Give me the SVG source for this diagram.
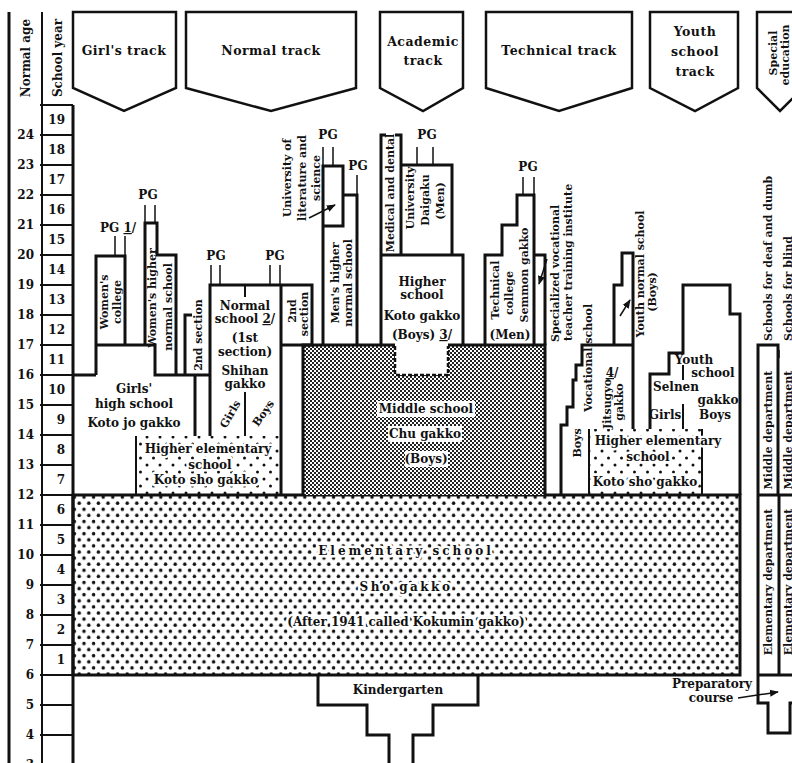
<svg xmlns="http://www.w3.org/2000/svg" width="792" height="763" viewBox="0 0 792 763">
<defs>
<style>
text{font-family:"DejaVu Serif","Liberation Serif",serif;font-weight:bold;fill:#111}
.t{font-size:12px;text-anchor:middle}
.r{font-size:11px;text-anchor:middle}
.rs{font-size:11px;text-anchor:start}
.h{font-size:12.5px;text-anchor:middle;letter-spacing:0.5px}
.ag{font-size:12px;text-anchor:end}
.halo{stroke:#fff;stroke-width:5px;paint-order:stroke;stroke-linejoin:round}
.th{fill:none;stroke:#111;stroke-width:3}
.md{fill:none;stroke:#111;stroke-width:2}
.tn{fill:none;stroke:#111;stroke-width:1.5}
.u{text-decoration:underline}
.hdr{fill:#fff;stroke:#111;stroke-width:2.5;stroke-linejoin:miter}
</style>
<pattern id="dotE" width="9.6" height="12.2" patternUnits="userSpaceOnUse"><circle cx="2.4" cy="3" r="1.75" fill="#111"/><circle cx="7.2" cy="9.1" r="1.75" fill="#111"/></pattern>
<pattern id="dotH" width="13" height="14" patternUnits="userSpaceOnUse"><circle cx="4" cy="3" r="1.5" fill="#111"/><circle cx="10.5" cy="10" r="1.5" fill="#111"/></pattern>
<pattern id="hatch" width="4" height="4" patternUnits="userSpaceOnUse"><rect width="4" height="4" fill="#222"/><rect x="0" y="0" width="2" height="2" fill="#fff"/><rect x="2" y="2" width="2" height="2" fill="#fff"/></pattern>
<marker id="ah" viewBox="0 0 10 10" refX="9" refY="5" markerWidth="6" markerHeight="6" orient="auto"><path d="M0,1L10,5L0,9Z" fill="#111"/></marker>
</defs>
<rect width="792" height="763" fill="#fff"/>

<g id="axis">
<path class="th" d="M9,12V763M73,105V763"/>
<path class="md" d="M42,12V763M40,105H73M40,135H73M40,165H73M40,195H73M40,225H73M40,255H73M40,285H73M40,315H73M40,345H73M40,375H73M40,405H73M40,435H73M40,465H73M40,495H73M40,525H73M40,555H73M40,585H73M40,615H73M40,645H73M40,675H73M40,705H73M40,735H73"/>
<text class="t" transform="translate(30.2,58) rotate(-90)">Normal age</text>
<text class="t" transform="translate(62.2,58) rotate(-90)">School year</text>
<text class="ag" x="34" y="139">24</text><text class="ag" x="34" y="169">23</text><text class="ag" x="34" y="199">22</text><text class="ag" x="34" y="229">21</text><text class="ag" x="34" y="259">20</text><text class="ag" x="34" y="289">19</text><text class="ag" x="34" y="319">18</text><text class="ag" x="34" y="349">17</text><text class="ag" x="34" y="379">16</text><text class="ag" x="34" y="409">15</text><text class="ag" x="34" y="439">14</text><text class="ag" x="34" y="469">13</text><text class="ag" x="34" y="499">12</text><text class="ag" x="34" y="529">11</text><text class="ag" x="34" y="559">10</text><text class="ag" x="34" y="589">9</text><text class="ag" x="34" y="619">8</text><text class="ag" x="34" y="649">7</text><text class="ag" x="34" y="679">6</text><text class="ag" x="34" y="709">5</text><text class="ag" x="34" y="739">4</text><text class="ag" x="34" y="769">3</text>
<text class="ag" x="65" y="124">19</text><text class="ag" x="65" y="154">18</text><text class="ag" x="65" y="184">17</text><text class="ag" x="65" y="214">16</text><text class="ag" x="65" y="244">15</text><text class="ag" x="65" y="274">14</text><text class="ag" x="65" y="304">13</text><text class="ag" x="65" y="334">12</text><text class="ag" x="65" y="364">11</text><text class="ag" x="65" y="394">10</text><text class="ag" x="65" y="424">9</text><text class="ag" x="65" y="454">8</text><text class="ag" x="65" y="484">7</text><text class="ag" x="65" y="514">6</text><text class="ag" x="65" y="544">5</text><text class="ag" x="65" y="574">4</text><text class="ag" x="65" y="604">3</text><text class="ag" x="65" y="634">2</text><text class="ag" x="65" y="664">1</text>
</g>

<g id="hdr-girls"><path class="hdr" d="M73,12H176V88L124,111L73,88Z"/><text class="h" x="124" y="55">Girl's track</text></g>
<g id="hdr-normal"><path class="hdr" d="M186,12H356V88L271,111L186,88Z"/><text class="h" x="271" y="55">Normal track</text></g>
<g id="hdr-academic"><path class="hdr" d="M380,12H463V88L423,111L380,88Z"/><text class="h" x="423" y="46">Academic</text><text class="h" x="423" y="65">track</text></g>
<g id="hdr-technical"><path class="hdr" d="M486,12H632V88L559,111L486,88Z"/><text class="h" x="559" y="55">Technical track</text></g>
<g id="hdr-youth"><path class="hdr" d="M650,12H738V88L695,111L650,88Z"/><text class="h" x="695" y="36">Youth</text><text class="h" x="695" y="56">school</text><text class="h" x="695" y="76">track</text></g>
<g id="hdr-special"><path class="hdr" d="M757,12H803V88L780,111L757,88Z"/><text class="r" transform="translate(776.9,53) rotate(-90)">Special</text><text class="r" transform="translate(788.9,55) rotate(-90)">education</text></g>

<g id="elementary">
<rect x="73" y="495" width="667" height="180" fill="url(#dotE)" stroke="#111" stroke-width="3"/>
<text class="t halo" x="406" y="555" style="letter-spacing:3px">Elementary school</text>
<text class="t halo" x="406" y="591" style="letter-spacing:2.5px">Sho gakko</text>
<text class="t halo" x="406" y="626">(After 1941 called Kokumin gakko)</text>
</g>

<g id="middle-school">
<rect x="303" y="345" width="242" height="150" fill="url(#hatch)"/>
<rect x="395" y="343" width="53" height="32" fill="#fff"/>
<path d="M395,346V375H448V346" fill="none" stroke="#111" stroke-width="2.5" stroke-dasharray="4,2"/>
<path class="th" d="M395,345H303V495M448,345H545V495"/>
<rect x="377" y="401" width="98" height="16" fill="#fff"/>
<rect x="388" y="426" width="74" height="16" fill="#fff"/>
<rect x="405" y="451" width="43" height="16" fill="#fff"/>
<text class="t" x="426" y="413">Middle school</text>
<text class="t" x="425" y="438">Chu gakko</text>
<text class="t" x="426" y="463">(Boys)</text>
</g>

<g id="higher-elem-left">
<rect x="136" y="436" width="144" height="59" fill="url(#dotH)"/>
<path class="md" d="M136,436V495"/>
<text class="t halo" x="208" y="453">Higher elementary</text>
<text class="t halo" x="210" y="469">school</text>
<text class="t halo" x="206" y="484">Koto sho gakko</text>
</g>

<g id="higher-elem-right">
<rect x="589" y="429" width="113" height="66" fill="url(#dotH)"/>
<path class="md" d="M589,429V495M702,429V495"/>
<text class="t halo" x="658" y="445">Higher elementary</text>
<text class="t halo" x="648" y="461">school</text>
<text class="t halo" x="645" y="486">Koto sho gakko</text>
</g>

<g id="girls-high">
<path class="th" d="M73,375H96M96,345H155V375H210M195,375V436"/>
<text class="t" x="134" y="393">Girls'</text>
<text class="t" x="134" y="408">high school</text>
<text class="t" x="134" y="427">Koto jo gakko</text>
</g>

<g id="womens-college">
<path class="th" d="M96,375V256H125V345"/>
<path class="tn" d="M115,236V256M125,236V256"/>
<text class="t" x="100" y="232" style="text-anchor:start">PG <tspan class="u">1</tspan>/</text>
<text class="r" transform="translate(107.9,302) rotate(-90)">Women's</text>
<text class="r" transform="translate(120.9,302) rotate(-90)">college</text>
</g>

<g id="womens-higher-normal">
<path class="th" d="M145,345V223H157V255H176V375"/>
<path class="tn" d="M145,205V223M155,205V223"/>
<text class="t" x="148" y="199">PG</text>
<text class="r" transform="translate(155.9,298) rotate(-90)">Women's higher</text>
<text class="r" transform="translate(171.9,307) rotate(-90)">normal school</text>
</g>

<g id="second-section-left">
<path class="th" d="M185,375V315H192"/>
<text class="r" transform="translate(201.9,335) rotate(-90)">2nd section</text>
</g>

<g id="normal-school">
<path class="th" d="M210,436V285H312V345H281M281,285V495"/>
<path class="md" d="M245,285V297M245,392V436"/>
<path class="tn" d="M211,265V285M220,265V285M270,265V285M280,265V285"/>
<text class="t" x="216" y="260">PG</text>
<text class="t" x="275" y="260">PG</text>
<text class="t" x="245" y="310">Normal</text>
<text class="t" x="245" y="323">school <tspan class="u">2</tspan>/</text>
<text class="t" x="245" y="342">(1st</text>
<text class="t" x="245" y="356">section)</text>
<text class="t" x="245" y="375">Shihan</text>
<text class="t" x="245" y="388">gakko</text>
<text class="r" transform="translate(230,414) rotate(-60)" dy="4">Girls</text>
<text class="r" transform="translate(263,413) rotate(-55)" dy="4">Boys</text>
</g>

<g id="second-section-right">
<text class="r" transform="translate(295.9,311) rotate(-90)">2nd</text>
<text class="r" transform="translate(307.9,314) rotate(-90)">section</text>
</g>

<g id="univ-lit">
<path class="th" d="M323,345V166H343V226H323"/>
<path class="tn" d="M323,147V166M333,147V166"/>
<text class="t" x="328" y="139">PG</text>
<text class="r" transform="translate(290.9,178) rotate(-90)">University of</text>
<text class="r" transform="translate(305.9,178) rotate(-90)">literature and</text>
<text class="r" transform="translate(319.9,178) rotate(-90)">science</text>
</g>

<g id="mens-higher-normal">
<path class="th" d="M343,195H357V345"/>
<path class="tn" d="M357,175V195"/>
<text class="t" x="358" y="170">PG</text>
<text class="r" transform="translate(338.9,283) rotate(-90)">Men's higher</text>
<text class="r" transform="translate(351.9,283) rotate(-90)">normal school</text>
</g>

<g id="medical">
<path class="th" d="M386,135H381V345M395,135H401V255"/>
<text class="r" transform="translate(393.9,193) rotate(-90)">Medical and dental</text>
</g>

<g id="university">
<path class="th" d="M401,165H452V255"/>
<path class="tn" d="M417,147V165M433,147V165"/>
<text class="t" x="427" y="139">PG</text>
<text class="r" transform="translate(413.9,198) rotate(-90)">University</text>
<text class="r" transform="translate(428.9,200) rotate(-90)">Daigaku</text>
<text class="r" transform="translate(443.9,201) rotate(-90)">(Men)</text>
</g>

<g id="higher-school">
<path class="th" d="M381,255H463V345"/>
<text class="t" x="422" y="286">Higher</text>
<text class="t" x="422" y="299">school</text>
<text class="t" x="422" y="320">Koto gakko</text>
<text class="t" x="422" y="339">(Boys) <tspan class="u">3</tspan>/</text>
</g>

<g id="technical-college">
<path class="th" d="M485,345V255H502V225H517V195H534V345"/>
<path class="tn" d="M523,177V195M534,177V195"/>
<text class="t" x="528" y="171">PG</text>
<text class="r" transform="translate(498.9,290) rotate(-90)">Technical</text>
<text class="r" transform="translate(512.9,293) rotate(-90)">college</text>
<text class="r" transform="translate(527.9,275) rotate(-90)">Semmon gakko</text>
<text class="t" x="510" y="339">(Men)</text>
</g>

<g id="specialized">
<path class="th" d="M534,255H545V345"/>
<text class="rs" transform="translate(558.9,342) rotate(-90)">Specialized vocational</text>
<text class="rs" transform="translate(571.9,341) rotate(-90)">teacher training institute</text>
</g>

<g id="vocational">
<path class="th" d="M561,495V425H567V407H573V380H576V365H582V345H614"/>
<text class="r" transform="translate(591.9,358) rotate(-90)">Vocational school</text>
<text class="r" transform="translate(580.9,443) rotate(-90)">Boys</text>
</g>

<g id="jitsugyo">
<path class="th" d="M614,345H633"/>
<text class="t" x="612" y="377"><tspan class="u">4</tspan>/</text>
<text class="r" transform="translate(610.9,404) rotate(-90)">Jitsugyo</text>
<text class="r" transform="translate(622.9,402) rotate(-90)">gakko</text>
</g>

<g id="youth-normal">
<path class="th" d="M614,345V285H622V253H633V429"/>
<text class="r" transform="translate(643.9,274) rotate(-90)">Youth normal school</text>
<text class="r" transform="translate(655.9,292) rotate(-90)">(Boys)</text>
</g>

<g id="youth-school">
<path class="th" d="M650,429V374H669V353H683V285H730V314H740V495"/>
<path class="md" d="M683,365V380M683,404V429"/>
<text class="t" x="694" y="364">Youth</text>
<text class="t" x="713" y="377">school</text>
<text class="t" x="676" y="391">Selnen</text>
<text class="t" x="718" y="404">gakko</text>
<text class="t" x="665" y="419">Girls</text>
<text class="t" x="715" y="419">Boys</text>
</g>

<g id="special-schools">
<text class="rs" transform="translate(771.9,341) rotate(-90)">Schools for deaf and dumb</text>
<text class="rs" transform="translate(791.9,341) rotate(-90)">Schools for blind</text>
</g>

<g id="special-middle">
<path class="th" d="M758,495V345H778V495"/>
<path class="tn" d="M779,350V358"/>
<text class="r" transform="translate(771.9,430) rotate(-90)">Middle department</text>
<text class="r" transform="translate(791.9,430) rotate(-90)">Middle department</text>
</g>

<g id="special-elementary">
<path class="th" d="M758,495H792M758,495V675M779,495V675M758,675H792"/>
<text class="r" transform="translate(771.9,582) rotate(-90)">Elementary department</text>
<text class="r" transform="translate(791.9,582) rotate(-90)">Elementary department</text>
</g>

<g id="preparatory">
<path class="th" d="M758,675V703H768V733H790V703H792"/>
<text class="t" x="712" y="688">Preparatory</text>
<text class="t" x="711" y="702">course</text>
</g>

<g id="kindergarten">
<path class="th" d="M318,675V705H367V735H389V763M478,675V705H433V735H413V763"/>
<text class="t" x="398" y="694">Kindergarten</text>
</g>

<g id="connectors">
<path class="tn" d="M309,218L335,205" marker-end="url(#ah)"/>
<path class="tn" d="M547,259L539,284" marker-end="url(#ah)"/>
<path class="tn" d="M620,316L630,300" marker-end="url(#ah)"/>
<path class="tn" d="M738,698L778,692" marker-end="url(#ah)"/>
</g>
</svg>
